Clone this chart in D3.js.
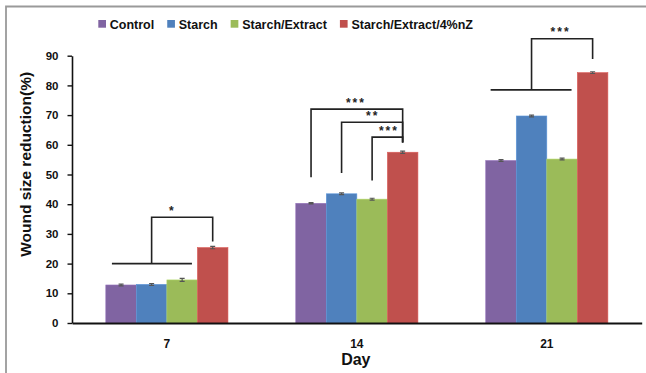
<!DOCTYPE html>
<html><head><meta charset="utf-8">
<script src="https://cdn.jsdelivr.net/npm/d3@7"></script>
<style>
html,body{margin:0;padding:0;background:#fff;}
svg{display:block;font-family:"Liberation Sans",Arial,sans-serif;}
</style></head>
<body><svg id="c" width="646" height="373"></svg>
<script>
const days = ["7", "14", "21"];
const seriesNames = ["Control", "Starch", "Starch/Extract", "Starch/Extract/4%nZ"];
const colors = ["#8064A2", "#4F81BD", "#9BBB59", "#C0504D"];
const control = [12.8, 40.3, 54.7];
const starch = [13.0, 43.5, 69.7];
const starchExtract = [14.5, 41.7, 55.2];
const starchExtractNZ = [25.4, 57.5, 84.3];
const errors = [[0.3, 0.2, 0.3], [0.3, 0.3, 0.3], [0.5, 0.3, 0.3], [0.4, 0.4, 0.3]];
const yTicks = [0, 10, 20, 30, 40, 50, 60, 70, 80, 90];
const series = [control, starch, starchExtract, starchExtractNZ];

// significance annotations: positions in bar-index units (0..3) within a day group, values in y units
const groupLines = [ // horizontal line covering bars 0-2
  {day: "7", x1: -0.30, x2: 2.32, y: 20.0},
  {day: "21", x1: -0.34, x2: 2.31, y: 78.5}
];
const brackets = [ // from leg bar (yFrom up to yTop) across to bar 3 (down to yEnd)
  {day: "7", leg: 1, yFrom: 20.0, yTop: 35.6, yEnd: 27.4, label: "*", labelAt: 1.68},
  {day: "14", leg: 0, yFrom: 49.1, yTop: 72.0, yEnd: 60.8, label: "***", labelAt: 1.47},
  {day: "14", leg: 1, yFrom: 50.5, yTop: 67.6, yEnd: 60.8, label: "**", labelAt: 2.02},
  {day: "14", leg: 2, yFrom: 48.0, yTop: 62.6, yEnd: 60.8, label: "***", labelAt: 2.55},
  {day: "21", leg: 1, yFrom: 78.5, yTop: 95.7, yEnd: 88.9, label: "***", labelAt: 1.95}
];

const svg = d3.select("#c");
const mLeft = 72, mRight = 641.7, mTop = 55.7, mBottom = 323;

// frame
svg.append("path").attr("d", `M6,${373} L6,6.5 L646,6.5`).attr("fill", "none")
  .attr("stroke", "#9a9a9a").attr("stroke-width", 1.8);

const x0 = d3.scaleBand().domain(days).range([mLeft, mRight]).paddingInner(0.357).paddingOuter(0.178);
const x1 = d3.scaleBand().domain(d3.range(4)).range([0, x0.bandwidth()]);
const y = d3.scaleLinear().domain([0, 90]).range([mBottom, mTop]);
const bw = x1.bandwidth();
const idx = (day, i) => x0(day) + bw / 2 + i * bw;

// bars
const g = svg.append("g");
series.forEach((vals, s) => {
  g.selectAll(null).data(days).enter().append("rect")
    .attr("x", d => x0(d) + x1(s))
    .attr("y", (d, i) => y(vals[i]))
    .attr("width", bw)
    .attr("height", (d, i) => y(0) - y(vals[i]))
    .attr("fill", colors[s])
    .attr("stroke", d3.color(colors[s]).brighter(0.4))
    .attr("stroke-width", 0.6);
  g.selectAll(null).data(days).enter().append("path")
    .attr("d", (d, i) => {
      const cx = x0(d) + x1(s) + bw / 2, e = errors[s][i];
      const yt = y(vals[i] + e), yb = y(vals[i] - e);
      return `M${cx - 2.5},${yt}H${cx + 2.5}M${cx},${yt}V${yb}M${cx - 2.5},${yb}H${cx + 2.5}`;
    })
    .attr("stroke", "#555").attr("stroke-width", 1.2).attr("fill", "none");
});

// y axis
const yAxis = svg.append("g").attr("transform", `translate(${mLeft},0)`)
  .call(d3.axisLeft(y).tickValues(yTicks).tickSize(4.5).tickSizeOuter(0).tickPadding(9));
yAxis.select(".domain").attr("stroke", "#111").attr("stroke-width", 1.6);
yAxis.selectAll(".tick line").attr("stroke", "#111").attr("stroke-width", 1.4);
yAxis.selectAll("text").attr("font-size", 11.5).attr("font-weight", "bold")
  .attr("font-family", "Liberation Sans, Arial, sans-serif").attr("fill", "#111");

// x axis
const xAxis = svg.append("g").attr("transform", `translate(0,${mBottom})`)
  .call(d3.axisBottom(x0).tickSize(0).tickSizeOuter(0).tickPadding(16));
xAxis.select(".domain").attr("stroke", "#111").attr("stroke-width", 2);
xAxis.selectAll("text").attr("font-size", 12).attr("font-weight", "bold")
  .attr("font-family", "Liberation Sans, Arial, sans-serif").attr("fill", "#111");

// axis titles
svg.append("text").attr("x", (mLeft + mRight) / 2 - 1).attr("y", 364.5).attr("text-anchor", "middle")
  .attr("font-size", 16).attr("font-weight", "bold").attr("fill", "#111").text("Day");
svg.append("text").attr("transform", `translate(31,${(mTop + mBottom) / 2 - 25}) rotate(-90)`)
  .attr("text-anchor", "middle").attr("font-size", 15.5).attr("font-weight", "bold").attr("fill", "#111")
  .text("Wound size reduction(%)");

// annotations
const ann = svg.append("g").attr("stroke", "#222").attr("stroke-width", 1.6).attr("fill", "none");
groupLines.forEach(l => {
  ann.append("path").attr("d", `M${idx(l.day, l.x1)},${y(l.y)}H${idx(l.day, l.x2)}`);
});
brackets.forEach(b => {
  const xl = idx(b.day, b.leg), xr = idx(b.day, 3);
  ann.append("path").attr("d", `M${xl},${y(b.yFrom)}V${y(b.yTop)}H${xr}V${y(b.yEnd)}`);
  svg.append("text").attr("x", idx(b.day, b.labelAt)).attr("y", y(b.yTop) - 2.5)
    .attr("text-anchor", "middle").attr("font-size", 12).attr("font-weight", "bold")
    .attr("letter-spacing", 2).attr("fill", "#222").text(b.label);
});

// legend
const leg = svg.append("g");
let lx = 98.3;
seriesNames.forEach((n, i) => {
  leg.append("rect").attr("x", lx).attr("y", 20).attr("width", 7.7).attr("height", 7.7).attr("fill", colors[i]);
  const t = leg.append("text").attr("x", lx + 11.5).attr("y", 28.6).attr("font-size", 12.5)
    .attr("font-weight", "bold").attr("fill", "#111").text(n);
  lx += 11.5 + t.node().getComputedTextLength() + 13;
});
</script></body></html>
